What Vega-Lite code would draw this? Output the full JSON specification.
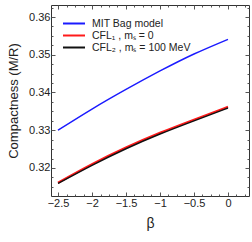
{
  "$schema": "https://vega.github.io/schema/vega-lite/v6.json",
  "width": 198,
  "height": 191,
  "autosize": {"type": "none"},
  "padding": {"left": 51, "top": 5, "right": 3, "bottom": 46},
  "background": "white",
  "config": {
    "font": "Liberation Sans",
    "view": {"stroke": "#333333", "strokeWidth": 1},
    "axis": {"domain": false, "grid": false, "tickColor": "#555555", "labelColor": "#222222", "titleColor": "#222222", "labelFont": "Liberation Sans", "titleFont": "Liberation Sans", "titleFontWeight": "normal", "labelFontSize": 11}
  },
  "data": {
    "values": [
      {"beta": -2.5, "c": 0.3300, "model": "MIT Bag model"},
      {"beta": -2.0, "c": 0.3356, "model": "MIT Bag model"},
      {"beta": -1.5, "c": 0.3408, "model": "MIT Bag model"},
      {"beta": -1.0, "c": 0.3457, "model": "MIT Bag model"},
      {"beta": -0.5, "c": 0.3502, "model": "MIT Bag model"},
      {"beta": 0.0, "c": 0.3541, "model": "MIT Bag model"},
      {"beta": -2.5, "c": 0.3161, "model": "CFL₁ , mₛ = 0"},
      {"beta": -2.0, "c": 0.3210, "model": "CFL₁ , mₛ = 0"},
      {"beta": -1.5, "c": 0.3254, "model": "CFL₁ , mₛ = 0"},
      {"beta": -1.0, "c": 0.3293, "model": "CFL₁ , mₛ = 0"},
      {"beta": -0.5, "c": 0.3328, "model": "CFL₁ , mₛ = 0"},
      {"beta": 0.0, "c": 0.3362, "model": "CFL₁ , mₛ = 0"},
      {"beta": -2.5, "c": 0.3159, "model": "CFL₂ , mₛ = 100 MeV"},
      {"beta": -2.0, "c": 0.3207, "model": "CFL₂ , mₛ = 100 MeV"},
      {"beta": -1.5, "c": 0.3251, "model": "CFL₂ , mₛ = 100 MeV"},
      {"beta": -1.0, "c": 0.3290, "model": "CFL₂ , mₛ = 100 MeV"},
      {"beta": -0.5, "c": 0.3325, "model": "CFL₂ , mₛ = 100 MeV"},
      {"beta": 0.0, "c": 0.3359, "model": "CFL₂ , mₛ = 100 MeV"}
    ]
  },
  "resolve": {"axis": {"x": "independent", "y": "independent"}},
  "layer": [
    {
      "mark": {"type": "line", "opacity": 0},
      "encoding": {
        "x": {"field": "beta", "type": "quantitative", "scale": {"domain": [-2.603, 0.309], "nice": false, "zero": false},
          "axis": {"orient": "top", "values": [-2.5, -2, -1.5, -1, -0.5, 0], "labels": false, "tickSize": -4, "title": null}},
        "y": {"field": "c", "type": "quantitative", "scale": {"domain": [0.31258, 0.36318], "nice": false, "zero": false},
          "axis": {"orient": "right", "values": [0.32, 0.33, 0.34, 0.35, 0.36], "labels": false, "tickSize": -4, "title": null}},
        "detail": {"field": "model"}
      }
    },
    {
      "mark": {"type": "line", "opacity": 0},
      "encoding": {
        "x": {"field": "beta", "type": "quantitative",
          "axis": {"orient": "top", "values": [-2.375, -2.25, -2.125, -1.875, -1.75, -1.625, -1.375, -1.25, -1.125, -0.875, -0.75, -0.625, -0.375, -0.25, -0.125, 0.125, 0.25], "labels": false, "tickSize": -2, "title": null}},
        "y": {"field": "c", "type": "quantitative",
          "axis": {"orient": "right", "values": [0.315, 0.3175, 0.3225, 0.325, 0.3275, 0.3325, 0.335, 0.3375, 0.3425, 0.345, 0.3475, 0.3525, 0.355, 0.3575, 0.3625], "labels": false, "tickSize": -2, "title": null}},
        "detail": {"field": "model"}
      }
    },
    {
      "mark": {"type": "line", "opacity": 0},
      "encoding": {
        "x": {"field": "beta", "type": "quantitative",
          "axis": {"orient": "bottom", "values": [-2.375, -2.25, -2.125, -1.875, -1.75, -1.625, -1.375, -1.25, -1.125, -0.875, -0.75, -0.625, -0.375, -0.25, -0.125, 0.125, 0.25], "labels": false, "tickSize": -2, "title": null}},
        "y": {"field": "c", "type": "quantitative",
          "axis": {"orient": "left", "values": [0.315, 0.3175, 0.3225, 0.325, 0.3275, 0.3325, 0.335, 0.3375, 0.3425, 0.345, 0.3475, 0.3525, 0.355, 0.3575, 0.3625], "labels": false, "tickSize": -2, "title": null}},
        "detail": {"field": "model"}
      }
    },
    {
      "transform": [{"filter": "datum.model === 'CFL₁ , mₛ = 0'"}],
      "mark": {"type": "line", "interpolate": "natural", "strokeWidth": 2.2},
      "encoding": {
        "x": {"field": "beta", "type": "quantitative", "axis": null},
        "y": {"field": "c", "type": "quantitative", "axis": null},
        "color": {"field": "model", "type": "nominal",
          "scale": {"domain": ["MIT Bag model", "CFL₁ , mₛ = 0", "CFL₂ , mₛ = 100 MeV"], "range": ["#1a1aff", "#ff1a1a", "#111111"]},
          "sort": ["MIT Bag model", "CFL₁ , mₛ = 0", "CFL₂ , mₛ = 100 MeV"],
          "legend": {"orient": "none", "legendX": 16.5, "legendY": 12, "title": null, "symbolType": "M-2,0H2", "symbolSize": 121, "symbolStrokeWidth": 2, "labelFontSize": 10.5, "labelFont": "Liberation Sans", "labelColor": "#222222", "rowPadding": 0, "labelOffset": 11.5, "padding": 0}}
      }
    },
    {
      "transform": [{"filter": "datum.model !== 'CFL₁ , mₛ = 0'"}],
      "mark": {"type": "line", "interpolate": "natural", "strokeWidth": 1.4},
      "encoding": {
        "x": {"field": "beta", "type": "quantitative",
          "axis": {"orient": "bottom", "values": [-2.5, -2, -1.5, -1, -0.5, 0], "format": "~g", "tickSize": -4, "labelPadding": 5, "title": "β", "titleFontSize": 14, "titlePadding": 8}},
        "y": {"field": "c", "type": "quantitative",
          "axis": {"orient": "left", "values": [0.32, 0.33, 0.34, 0.35, 0.36], "format": ".2f", "tickSize": -4, "labelPadding": 5, "title": "Compactness (M/R)", "titleFontSize": 13, "titlePadding": 8}},
        "color": {"field": "model", "type": "nominal",
          "scale": {"domain": ["MIT Bag model", "CFL₁ , mₛ = 0", "CFL₂ , mₛ = 100 MeV"], "range": ["#1a1aff", "#ff1a1a", "#111111"]},
          "sort": ["MIT Bag model", "CFL₁ , mₛ = 0", "CFL₂ , mₛ = 100 MeV"],
          "legend": {"orient": "none", "legendX": 16.5, "legendY": 12, "title": null, "symbolType": "M-2,0H2", "symbolSize": 121, "symbolStrokeWidth": 2, "labelFontSize": 10.5, "labelFont": "Liberation Sans", "labelColor": "#222222", "rowPadding": 0, "labelOffset": 11.5, "padding": 0}}
      }
    }
  ]
}
